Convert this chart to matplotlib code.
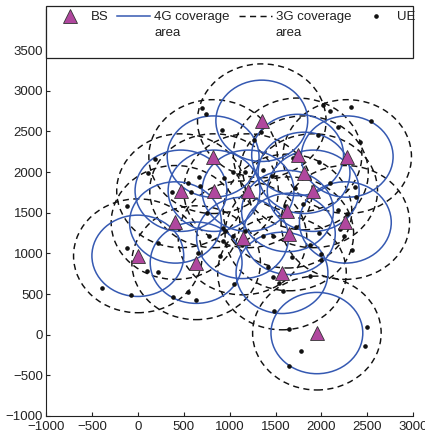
import matplotlib
matplotlib.use("Agg")
import matplotlib.pyplot as plt
from matplotlib.lines import Line2D
from matplotlib.patches import Circle, Rectangle

plt.rcParams['font.family'] = ['Liberation Sans', 'DejaVu Sans']

# Base stations
bs_x = [1350, 820, 1740, 2280, 1810, 470, 830, 1200, 1910, 1630, 410, 2260, 1650, 1140, 0, 635, 1570, 1950]
bs_y = [2630, 2190, 2210, 2190, 1990, 1770, 1770, 1770, 1770, 1520, 1380, 1380, 1240, 1190, 970, 885, 760, 20]

# Coverage radii
r_4g = 500
r_3g = 700

# User equipment
ue_x = [700, 744, 918, 1343, 2019, 2089, 2324, 2541, 2176, 1967, 1267, 1695, 1975, 2422, 188, 115, 370, 551,
        671, 679, 940, 577, -120, 752, 450, 780, 951, 218, -120, 660, 897, 105, 218, -389, -76, 388, 551, 635,
        1158, 1169, 1466, 1714, 2095, 2367, 2378, 1605, 1801, 2185, 2277, 2204, 1978, 1724, 1477, 1133, 1362,
        932, 1993, 1877, 1678, 1423, 2331, 1997, 1474, 1539, 1052, 1877, 2240, 1586, 1488, 1651, 2495, 2476,
        1776, 1651, 1041, 1368, 932, 1041, 1169]
ue_y = [2789, 2715, 2512, 2494, 2826, 2752, 2801, 2629, 2559, 2457, 2396, 2174, 2125, 2371, 2162, 1994, 1760,
        1871, 1945, 1830, 1929, 1760, 1579, 1495, 1308, 1216, 1269, 1127, 1072, 1004, 962, 778, 765, 577, 491,
        467, 522, 430, 1699, 2006, 1953, 1806, 1864, 1818, 1699, 1585, 1603, 1536, 1486, 1299, 1249, 1330, 1208,
        1106, 1216, 1146, 995, 1106, 955, 832, 1036, 913, 709, 635, 627, 725, 1216, 532, 295, 70, 98, -144,
        -205, -389, 2006, 2027, 1311, 1216, 1269]

x_ticks = [-1000, -500, 0, 500, 1000, 1500, 2000, 2500, 3000]
y_ticks = [-1000, -500, 0, 500, 1000, 1500, 2000, 2500, 3000, 3500]
labels = ['BS', '4G coverage', '3G coverage', 'UE']

blue = '#3559b2'
magenta = '#b0479e'
W, H = 425, 438
fig = plt.figure(figsize=(W / 100, H / 100), dpi=100)
ax_l, ax_r, ax_b, ax_t = 46, 413.3, 416, 9.4
ax = fig.add_axes([ax_l / W, 1 - ax_b / H, (ax_r - ax_l) / W, (ax_b - ax_t) / H])

dash = (0, (4.2, 3.0))
for cx, cy in zip(bs_x, bs_y):
    ax.add_patch(Circle((cx, cy), r_3g, fill=False, edgecolor='#111111', lw=1.05, linestyle=dash, zorder=2))
for cx, cy in zip(bs_x, bs_y):
    ax.add_patch(Circle((cx, cy), r_4g, fill=False, edgecolor=blue, lw=1.1, zorder=3))

ax.plot(ue_x, ue_y, linestyle='none', marker='o', ms=2.3, color='#111111', zorder=4)
ax.plot(bs_x, bs_y, linestyle='none', marker='^', ms=9.5, markerfacecolor=magenta,
        markeredgecolor='#333333', markeredgewidth=0.6, zorder=5)

ax.set_xlim(-1000, 3000)
ax.set_ylim(-1000, 4000)
ax.set_xticks(x_ticks)
ax.set_yticks(y_ticks)
ax.tick_params(direction='in', length=3, width=0.8, pad=2, labelsize=9.5, colors='#222222')
ax.tick_params(axis='x', pad=3.5)
ax.spines['top'].set_visible(False)
ax.spines['right'].set_visible(False)
for s in ('left', 'bottom'):
    ax.spines[s].set_linewidth(0.8)
    ax.spines[s].set_color('#222222')

# legend frame
def ay(py):
    return (ax_b - py) / (ax_b - ax_t)
ax.add_patch(Rectangle((0, ay(58)), 1, ay(6) - ay(58), transform=ax.transAxes, clip_on=False,
                       facecolor='white', edgecolor='#222222', lw=0.9, zorder=6))

handles = [
    Line2D([], [], linestyle='none', marker='^', ms=9.5, markerfacecolor=magenta,
           markeredgecolor='#333333', markeredgewidth=0.6),
    Line2D([], [], color=blue, lw=1.1),
    Line2D([], [], color='#111111', lw=1.05, linestyle=dash),
    Line2D([], [], linestyle='none', marker='o', ms=2.3, color='#111111'),
]
leg = ax.legend(handles, labels, loc='upper left',
                bbox_to_anchor=((53.5 - ax_l) / (ax_r - ax_l), ay(11)),
                borderaxespad=0, borderpad=0, frameon=False, ncol=4,
                handlelength=2.5, handletextpad=0.3, columnspacing=0.68,
                fontsize=9.5)
leg.set_zorder(7)
for t in leg.get_texts():
    t.set_color('#222222')
for t in leg.get_texts()[1:3]:
    ax.annotate('area', xy=(0, 0), xycoords=t, xytext=(0, -3.0), textcoords='offset points',
                ha='left', va='top', fontsize=9.5, color='#222222', zorder=8, annotation_clip=False)

fig.savefig('out.png', dpi=100)
